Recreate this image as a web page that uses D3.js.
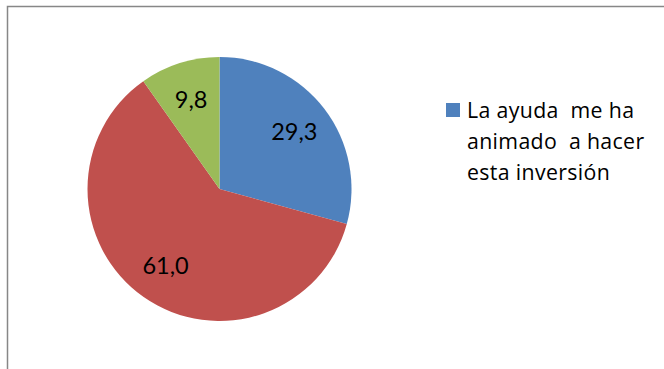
<!DOCTYPE html>
<html>
<head>
<meta charset="utf-8">
<script src="https://cdn.jsdelivr.net/npm/d3@7"></script>
<style>
  html, body { margin: 0; padding: 0; background: #fff; }
  svg { display: block; }
  text { font-family: Lato, "Open Sans", sans-serif; fill: #000; }
</style>
</head>
<body>
<svg id="chart" width="664" height="369"></svg>
<script>
// Slice values (percent) and their colours
const categories = ["La ayuda me ha animado a hacer esta inversión", "No", "NS/NC"];
const values = [29.3, 61.0, 9.8];
const colors = ["#4F81BD", "#C0504D", "#9BBB59"];
const valueLabels = ["29,3", "61,0", "9,8"];
// Only the first category appears in the legend box
const legendLines = ["La ayuda  me ha", "animado  a hacer", "esta inversión"];

const svg = d3.select("#chart");
const W = 664, H = 369;

// Chart frame (continues past the right and bottom edges)
svg.append("rect")
  .attr("x", 7.5).attr("y", 6.5)
  .attr("width", W + 20).attr("height", H + 20)
  .attr("fill", "none")
  .attr("stroke", "#878787")
  .attr("stroke-width", 1.5);

const cx = 219.5, cy = 189, R = 132;

const pie = d3.pie().sort(null).value(d => d)(values);
const arc = d3.arc().innerRadius(0).outerRadius(R);
const labelArc = d3.arc().innerRadius(94).outerRadius(94);

const g = svg.append("g").attr("transform", `translate(${cx},${cy})`);

g.selectAll("path.slice")
  .data(pie)
  .join("path")
  .attr("class", "slice")
  .attr("d", arc)
  .attr("fill", (d, i) => colors[i]);

g.selectAll("text.val")
  .data(pie)
  .join("text")
  .attr("class", "val")
  .attr("transform", d => `translate(${labelArc.centroid(d)})`)
  .attr("text-anchor", "middle")
  .attr("dy", "0.36em")
  .style("font-size", "23.5px")
  .text((d, i) => valueLabels[i]);

// Legend
const legend = svg.append("g").attr("transform", "translate(446,103)");
legend.append("rect")
  .attr("width", 14).attr("height", 14)
  .attr("fill", colors[0]);
legend.append("text")
  .attr("x", 21)
  .style("font-family", "'Open Sans', sans-serif")
  .style("font-size", "21.3px")
  .style("letter-spacing", "0.35px")
  .style("white-space", "pre")
  .selectAll("tspan")
  .data(legendLines)
  .join("tspan")
  .attr("x", 21)
  .attr("y", (d, i) => 15 + i * 31)
  .text(d => d);
</script>
</body>
</html>
